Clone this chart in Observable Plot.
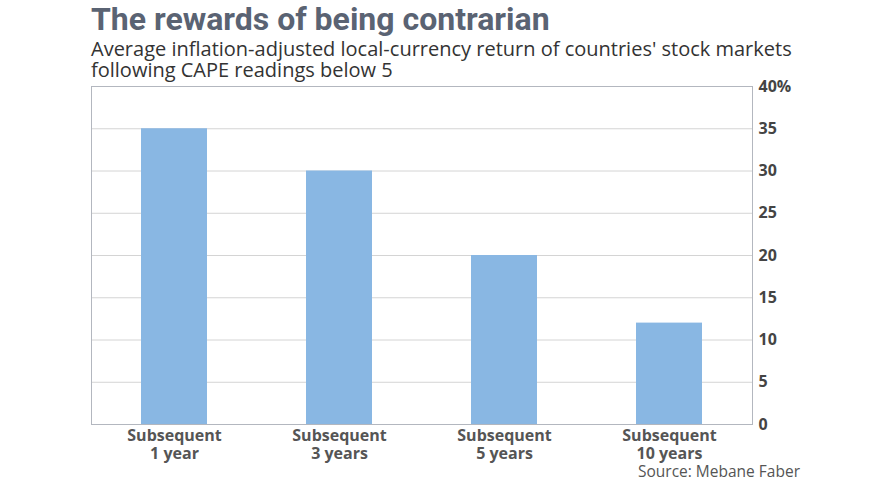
<!DOCTYPE html>
<html>
<head>
<meta charset="utf-8">
<script src="https://cdn.jsdelivr.net/npm/d3@7"></script>
<script src="https://cdn.jsdelivr.net/npm/@observablehq/plot@0.6"></script>
<style>
  html, body { margin: 0; padding: 0; background: #fff; }
  #wrap { position: relative; width: 880px; height: 495px; overflow: hidden; }
  #title { position: absolute; left: 91px; top: 1px; font-family: Roboto, sans-serif; font-weight: 700; font-size: 32px; color: #5a6373; line-height: 36px; white-space: nowrap; }
  #sub { position: absolute; left: 91px; top: 38px; font-family: "Open Sans", sans-serif; font-size: 20px; color: #333; line-height: 21px; white-space: nowrap; }
  #chart { position: absolute; left: 0; top: 75px; }
  #source { position: absolute; right: 80px; top: 462px; font-family: "Open Sans", sans-serif; font-size: 15.5px; color: #555; white-space: nowrap; line-height: 18px; }
</style>
</head>
<body>
<div id="wrap">
  <div id="title">The rewards of being contrarian</div>
  <div id="sub">Average inflation-adjusted local-currency return of countries' stock markets<br>following CAPE readings below 5</div>
  <div id="chart"></div>
  <div id="source">Source: Mebane Faber</div>
</div>
<script>
const categories = ["Subsequent\n1 year", "Subsequent\n3 years", "Subsequent\n5 years", "Subsequent\n10 years"];
const values = [35, 30, 20, 12];
const yTicks = [0, 5, 10, 15, 20, 25, 30, 35, 40];

const data = categories.map((c, i) => ({category: c, value: values[i]}));

const chart = Plot.plot({
  width: 880,
  height: 390,
  marginLeft: 91,
  marginRight: 128,
  marginTop: 11,
  marginBottom: 41,
  style: {fontFamily: "'Open Sans', sans-serif", background: "transparent"},
  x: {domain: categories, paddingInner: 0.6, paddingOuter: 0.3, axis: null},
  y: {domain: [0, 40], axis: null},
  marks: [
    Plot.gridY(yTicks, {stroke: "#d4d4d4", strokeOpacity: 1}),
    Plot.barY(data, {x: "category", y: "value", fill: "#89b7e3"}),
    Plot.frame({stroke: "#b3b7bf"}),
    Plot.axisY(yTicks, {anchor: "right", label: null, tickSize: 0, tickPadding: 6, fontSize: 16, fontWeight: "bold", fill: "#444", tickFormat: d => d === 40 ? "40%" : String(d)}),
    Plot.axisX(categories, {anchor: "bottom", label: null, tickSize: 0, tickPadding: 4, fontSize: 16, fontWeight: "bold", fill: "#555", lineHeight: 1.1})
  ]
});
document.getElementById("chart").appendChild(chart);
</script>
</body>
</html>
